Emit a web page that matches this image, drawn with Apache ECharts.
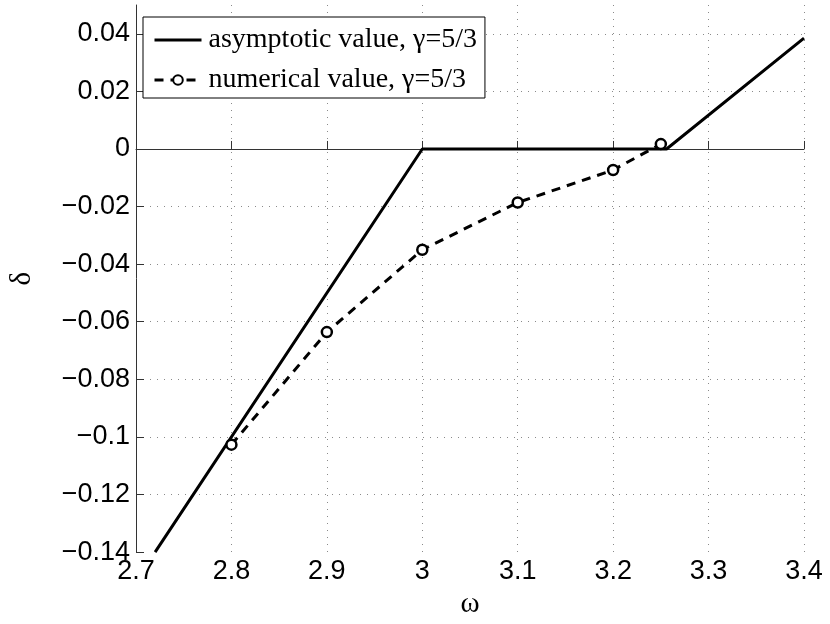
<!DOCTYPE html>
<html>
<head>
<meta charset="utf-8">
<script src="https://cdn.jsdelivr.net/npm/echarts@6/dist/echarts.min.js"></script>
<style>
html,body{margin:0;padding:0;background:#fff;}
#chart{width:830px;height:624px;}
</style>
</head>
<body>
<div id="chart"></div>
<script>
// asymptotic value, gamma = 5/3 (solid line)
const asymptoticOmega = [2.72, 3.0, 3.256, 3.4];
const asymptoticDelta = [-0.14, 0.0, 0.0, 0.0385];
// numerical value, gamma = 5/3 (dashed with circles)
const numericalOmega = [2.8, 2.9, 3.0, 3.1, 3.2, 3.25];
const numericalDelta = [-0.1027, -0.0636, -0.035, -0.0186, -0.0073, 0.0017];
const seriesNames = ['asymptotic value, \u03b3=5/3', 'numerical value, \u03b3=5/3'];

const fmt = (v, d) => {
  const n = parseFloat(v.toFixed(d));
  return String(n).replace('-', '\u2212');
};

const chart = echarts.init(document.getElementById('chart'));
const gridColor = '#8a8a8a';
chart.setOption({
  animation: false,
  backgroundColor: '#fff',
  grid: { left: 127, right: 26, top: 5, bottom: 71, containLabel: false },
  legend: {
    orient: 'vertical',
    left: 143, top: 17,
    padding: [8, 8, 3, 10],
    borderColor: '#000', borderWidth: 1,
    backgroundColor: '#fff',
    itemWidth: 47, itemHeight: 12, itemGap: 10,
    lineStyle: { width: 3 },
    textStyle: { fontFamily: 'Liberation Serif', fontSize: 28, color: '#000', lineHeight: 30, padding: [0, 0, 0, 2] },
    data: [
      { name: seriesNames[0], itemStyle: { opacity: 0 } },
      { name: seriesNames[1] }
    ]
  },
  xAxis: {
    type: 'value', min: 2.7, max: 3.4, interval: 0.1,
    name: '\u03c9', nameLocation: 'middle', nameGap: 35,
    nameTextStyle: { fontFamily: 'Liberation Serif', fontSize: 29, color: '#000' },
    axisLine: { show: true, lineStyle: { color: '#333', width: 1 } },
    axisTick: { show: true, inside: true, length: 8, lineStyle: { color: '#333' } },
    axisLabel: { fontFamily: 'Liberation Sans', fontSize: 27, color: '#000', margin: 6,
      formatter: v => fmt(v, 1) },
    splitLine: { show: true, showMinLine: false, lineStyle: { color: gridColor, type: [1, 6], width: 1 } }
  },
  yAxis: {
    type: 'value', min: -0.14, max: 0.05, interval: 0.02,
    name: '\u03b4', nameLocation: 'middle', nameGap: 99,
    nameTextStyle: { fontFamily: 'Liberation Serif', fontSize: 29, color: '#000' },
    axisLine: { show: true, onZero: false, lineStyle: { color: '#333', width: 1 } },
    axisTick: { show: true, inside: true, length: 8, lineStyle: { color: '#333' } },
    axisLabel: { fontFamily: 'Liberation Sans', fontSize: 27, color: '#000', margin: 6,
      showMaxLabel: false,
      formatter: v => (Math.abs(v - 0.05) < 1e-9 ? '' : fmt(v, 2)) },
    splitLine: { show: true, showMinLine: false, showMaxLine: false, lineStyle: { color: gridColor, type: [1, 6], width: 1 } }
  },
  series: [
    {
      name: seriesNames[0], type: 'line',
      data: asymptoticOmega.map((x, i) => [x, asymptoticDelta[i]]),
      showSymbol: false, symbol: 'none',
      lineStyle: { color: '#000', width: 3 },
      itemStyle: { color: '#000' }
    },
    {
      name: seriesNames[1], type: 'line',
      data: numericalOmega.map((x, i) => [x, numericalDelta[i]]),
      symbol: 'circle', symbolSize: 10, showSymbol: true,
      lineStyle: { color: '#000', width: 3, type: [9, 7] },
      itemStyle: { color: '#fff', borderColor: '#000', borderWidth: 2.5 },
      z: 3
    }
  ]
});
</script>
</body>
</html>
